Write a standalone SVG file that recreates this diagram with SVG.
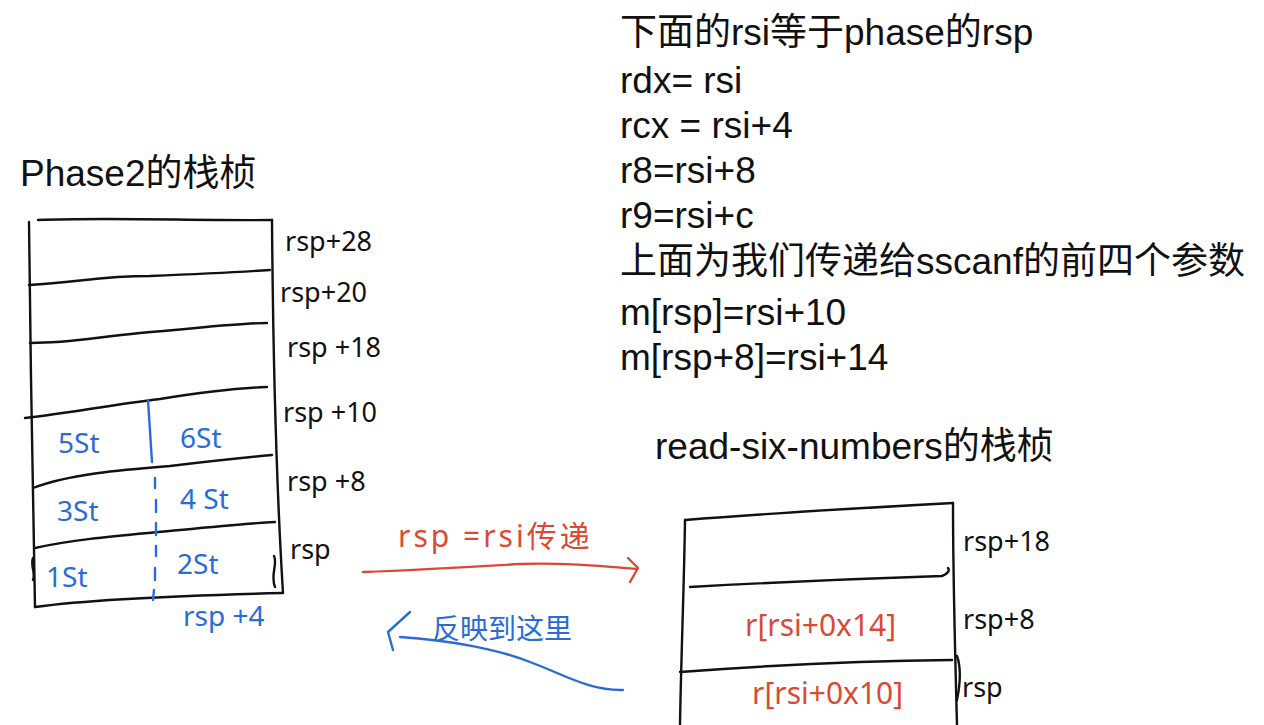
<svg xmlns="http://www.w3.org/2000/svg" width="1264" height="725" viewBox="0 0 1264 725">
<style>
.t{font-family:"Liberation Sans","Noto Sans CJK SC",sans-serif;font-size:37px;fill:#111}
.h{font-family:"Noto Sans","Noto Sans CJK SC",sans-serif;font-size:27px;fill:#111}
.hb{font-family:"Noto Sans","Noto Sans CJK SC",sans-serif;font-size:28px;fill:#2a6cd6}
.hr{font-family:"Noto Sans","Noto Sans CJK SC",sans-serif;font-size:30px;fill:#d94a35}
.k{fill:none;stroke:#111;stroke-width:2.4;stroke-linecap:round;stroke-linejoin:round}
.b{fill:none;stroke:#2a6cd6;stroke-width:2.4;stroke-linecap:round;stroke-linejoin:round}
.r{fill:none;stroke:#d94a35;stroke-width:2.4;stroke-linecap:round;stroke-linejoin:round}
</style>
<rect width="1264" height="725" fill="#fff"/>
<g id="notes">
<text class="t" x="620" y="45">下面的rsi等于phase的rsp</text>
<text class="t" x="620" y="93">rdx= rsi</text>
<text class="t" x="620" y="138">rcx = rsi+4</text>
<text class="t" x="620" y="183">r8=rsi+8</text>
<text class="t" x="620" y="228">r9=rsi+c</text>
<text class="t" x="620" y="274">上面为我们传递给sscanf的前四个参数</text>
<text class="t" x="620" y="325">m[rsp]=rsi+10</text>
<text class="t" x="620" y="370">m[rsp+8]=rsi+14</text>
</g>
<g id="phase2-stack">
<text class="t" x="20" y="186">Phase2的栈桢</text>
<path class="k" d="M38,220 C110,217 200,221 272,220"/>
<path class="k" d="M29,222 C30,350 33,480 35,607"/>
<path class="k" d="M272,220 C273,350 276,480 283,593"/>
<path class="k" d="M29,285 C80,282 100,276 150,276 C200,274 240,272 270,270"/>
<path class="k" d="M30,343 C70,343 90,338 140,333 C200,328 240,323 267,323"/>
<path class="k" d="M25,418 C70,413 110,405 160,399 C210,391 240,388 267,387"/>
<path class="k" d="M33,488 C70,474 120,470 170,466 C220,460 250,457 272,455"/>
<path class="k" d="M35,548 C80,538 130,535 180,530 C230,525 255,523 275,522"/>
<path class="k" d="M35,607 C100,598 200,595 283,593"/>
<path class="k" d="M33,558 C30,566 36,572 33,580 M274,556 C278,564 270,575 275,587"/>
<path class="b" d="M148,400 L152,462"/>
<path class="b" d="M155,478 L155,488 M156,500 L156,512 M156,523 L156,535 M156,546 L156,556 M155,568 L155,580 M154,590 L153,600" />
<text class="hb" x="58" y="453">5St</text>
<text class="hb" x="180" y="448">6St</text>
<text class="hb" x="57" y="521">3St</text>
<text class="hb" x="180" y="509">4 St</text>
<text class="hb" x="46" y="587">1St</text>
<text class="hb" x="177" y="574">2St</text>
<text class="h" x="285" y="251">rsp+28</text>
<text class="h" x="280" y="302">rsp+20</text>
<text class="h" x="287" y="357">rsp +18</text>
<text class="h" x="283" y="422">rsp +10</text>
<text class="h" x="287" y="491">rsp +8</text>
<text class="h" x="290" y="559">rsp</text>
<text class="hb" x="183" y="626">rsp +4</text>
</g>
<g id="rsn-stack">
<text class="t" x="655" y="459">read-six-numbers的栈桢</text>
<path class="k" d="M685,520 C760,514 860,508 953,503"/>
<path class="k" d="M685,520 C684,590 681,660 680,725"/>
<path class="k" d="M953,503 C953,580 955,650 957,725"/>
<path class="k" d="M690,587 C780,582 880,578 942,576 C948,574 950,570 948,568"/>
<path class="k" d="M680,672 C760,666 840,661 952,660"/>
<path class="k" d="M957,656 C962,670 959,690 957,700"/>
<text class="hr" x="745" y="636">r[rsi+0x14]</text>
<text class="hr" x="752" y="704">r[rsi+0x10]</text>
<text class="h" x="963" y="551">rsp+18</text>
<text class="h" x="963" y="629">rsp+8</text>
<text class="h" x="962" y="697">rsp</text>
</g>
<g id="connectors">
<path class="r" d="M363,572 C420,570 470,567 520,564 C570,562 610,567 636,569"/>
<path class="r" d="M628,558 L638,568 L630,582"/>
<text class="hr" x="398" y="547" letter-spacing="3">rsp =rsi传递</text>
<path class="b" d="M623,690 C590,691 565,675 530,662 C500,650 450,640 400,637"/>
<path class="b" d="M410,612 L388,632 L393,650"/>
<text class="hb" x="432" y="639">反映到这里</text>
</g>
</svg>
